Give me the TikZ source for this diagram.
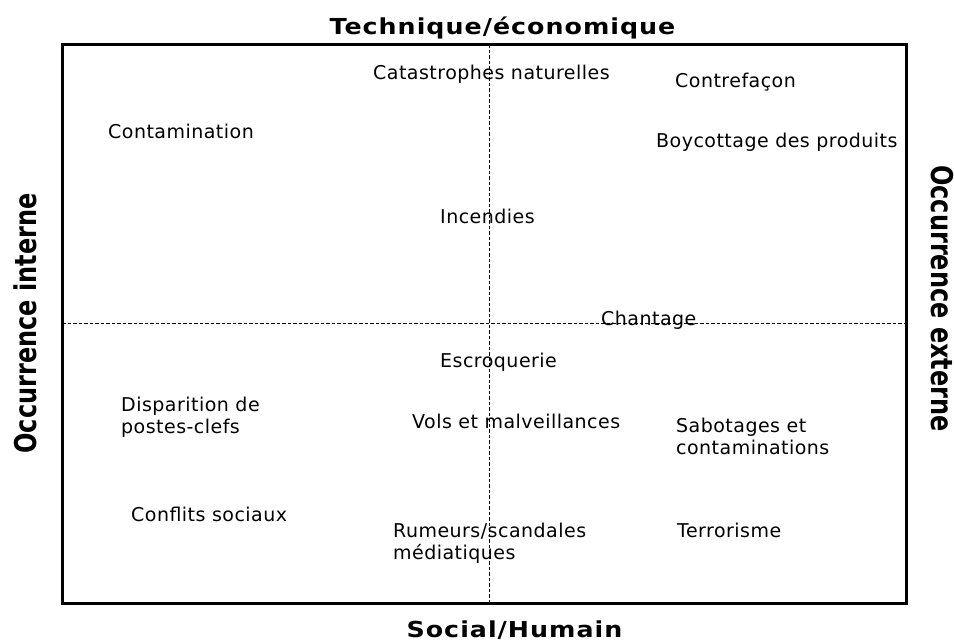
\documentclass[tikz,border=0pt]{standalone}
\usepackage{fontspec}
\setmainfont{DejaVu Sans}[LetterSpace=2.5]
\newfontfamily\axisfont{DejaVu Sans}[LetterSpace=4]
\newfontfamily\sidefont{DejaVu Sans}
\newcommand{\axistext}[1]{\scalebox{1.15}[1]{\axisfont\bfseries\fontsize{22}{26}\selectfont #1}}
\newcommand{\sidetext}[1]{\scalebox{0.8}[1]{\sidefont\bfseries\fontsize{30}{34}\selectfont #1}}
\begin{document}
\begin{tikzpicture}[x=1pt,y=-1pt,
  lbl/.style={inner sep=0pt, font=\fontsize{19}{22}\selectfont, anchor=base west},
  lbl2/.style={inner sep=0pt, font=\fontsize{19}{22}\selectfont, anchor=north west, align=left},
  axis/.style={inner sep=0pt, anchor=base},
  side/.style={inner sep=0pt},
  quad/.style={dash pattern=on 3.5pt off 2pt, line width=0.9pt}]
\useasboundingbox (0,0) rectangle (954,641);
\coordinate (tl) at (62,44);
\coordinate (br) at (906,603);
\draw[line width=3pt] (tl) rectangle (br);
\coordinate (vt) at (489,44);
\coordinate (vb) at (489,603);
\coordinate (hl) at (62,323);
\coordinate (hr) at (906,323);
\draw[quad] (vt) -- (vb);
\draw[quad] (hl) -- (hr);
\node[axis] (top) at (502.5,34) {\axistext{Technique/économique}};
\node[axis] (bot) at (514.5,637) {\axistext{Social/Humain}};
\node[side, rotate=90] (left) at (25.5,323.5) {\sidetext{Occurrence interne}};
\node[side, rotate=-90] (right) at (942,298.5) {\sidetext{Occurrence externe}};
\node[lbl] (cat) at (373,79) {Catastrophes naturelles};
\node[lbl] (contref) at (675,87) {Contrefaçon};
\node[lbl] (contam) at (108,138) {Contamination};
\node[lbl] (boy) at (656,147) {Boycottage des produits};
\node[lbl] (inc) at (440,223) {Incendies};
\node[lbl] (chan) at (601,325) {Chantage};
\node[lbl] (esc) at (440,367) {Escroquerie};
\node[lbl2] (disp) at (121,397) {Disparition de\\postes-clefs};
\node[lbl] (vols) at (412,428) {Vols et malveillances};
\node[lbl2] (sab) at (676,418) {Sabotages et\\contaminations};
\node[lbl] (conf) at (131,521) {Conflits sociaux};
\node[lbl2] (rum) at (393,523) {Rumeurs/scandales\\médiatiques};
\node[lbl] (ter) at (677,537) {Terrorisme};
\end{tikzpicture}
\end{document}
